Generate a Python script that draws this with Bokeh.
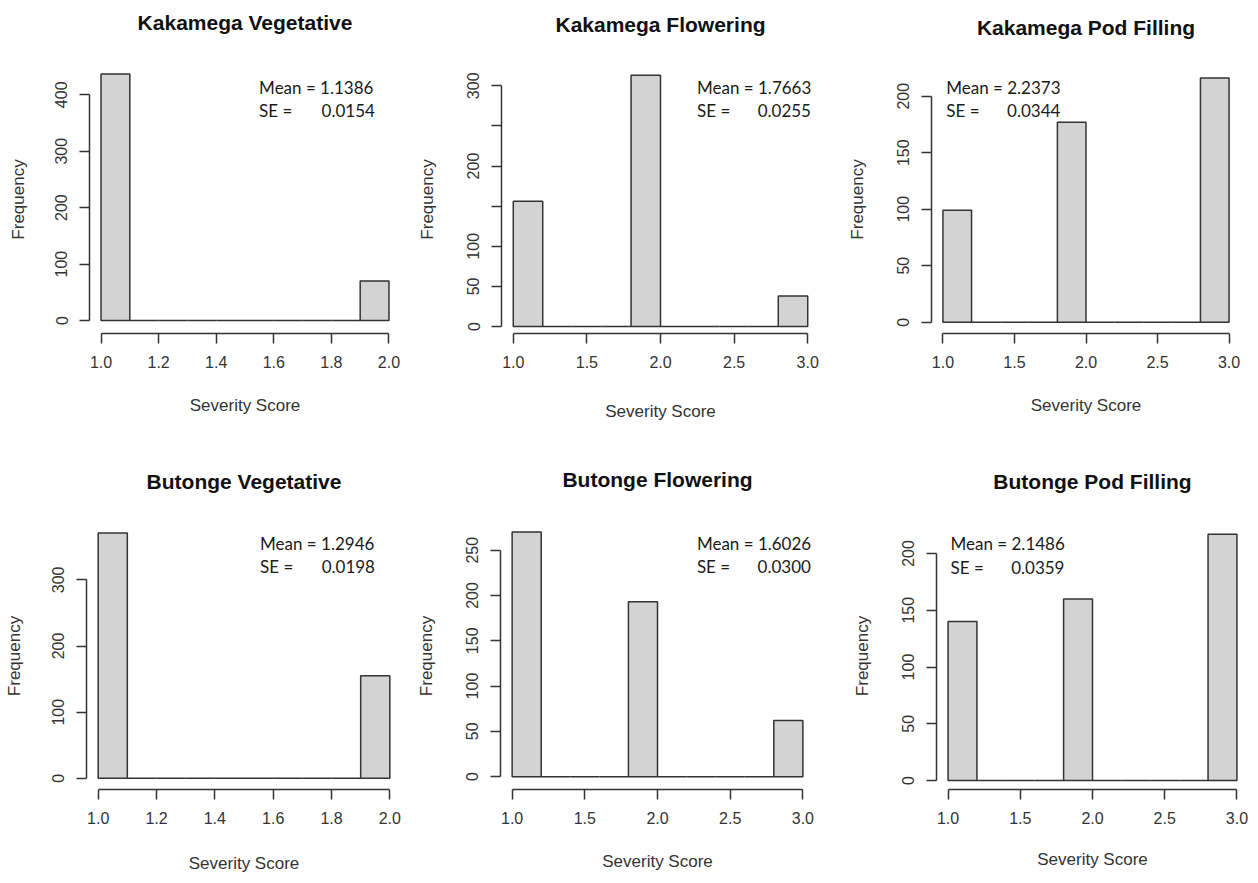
from bokeh.plotting import figure
from bokeh.layouts import row, column
from bokeh.models import FixedTicker, PrintfTickFormatter, Label, ColumnDataSource, Title
from bokeh.embed import file_html
from bokeh.resources import INLINE

# ---------------- data ----------------
titles = ["Kakamega Vegetative", "Kakamega Flowering", "Kakamega Pod Filling",
          "Butonge Vegetative", "Butonge Flowering", "Butonge Pod Filling"]

breaks_two = [1.0, 1.1, 1.2, 1.3, 1.4, 1.5, 1.6, 1.7, 1.8, 1.9, 2.0]
breaks_three = [1.0, 1.2, 1.4, 1.6, 1.8, 2.0, 2.2, 2.4, 2.6, 2.8, 3.0]

kakamega_vegetative = [437, 0, 0, 0, 0, 0, 0, 0, 0, 70]
kakamega_flowering = [156, 0, 0, 0, 313, 0, 0, 0, 0, 38]
kakamega_pod_filling = [99, 0, 0, 0, 177, 0, 0, 0, 0, 216]
butonge_vegetative = [371, 0, 0, 0, 0, 0, 0, 0, 0, 155]
butonge_flowering = [270, 0, 0, 0, 193, 0, 0, 0, 0, 62]
butonge_pod_filling = [140, 0, 0, 0, 160, 0, 0, 0, 0, 217]

means = ["1.1386", "1.7663", "2.2373", "1.2946", "1.6026", "2.1486"]
ses = ["0.0154", "0.0255", "0.0344", "0.0198", "0.0300", "0.0359"]

x_ticks_two = [1.0, 1.2, 1.4, 1.6, 1.8, 2.0]
x_ticks_three = [1.0, 1.5, 2.0, 2.5, 3.0]
y_ticks = [
    [0, 100, 200, 300, 400],
    [0, 50, 100, 150, 200, 250, 300],
    [0, 50, 100, 150, 200],
    [0, 100, 200, 300],
    [0, 50, 100, 150, 200, 250],
    [0, 50, 100, 150, 200],
]
y_hidden_labels = [[], [150, 250], [], [], [], []]

counts = [kakamega_vegetative, kakamega_flowering, kakamega_pod_filling,
          butonge_vegetative, butonge_flowering, butonge_pod_filling]
breaks = [breaks_two, breaks_three, breaks_three, breaks_two, breaks_three, breaks_three]
x_ticks = [x_ticks_two, x_ticks_three, x_ticks_three, x_ticks_two, x_ticks_three, x_ticks_three]

# ---------------- layout (pixels) ----------------
col_w = [412, 428, 410]
row_h = [450, 425]
row_top = [0, 450]
# frame top / bottom shared by all panels of a row (page pixels)
frame_top = [65, 522]
frame_bottom = [333, 792]
# left / right borders per panel
side_borders = [(89, 12), (89, 21), (91, 10), (86, 11), (88, 26), (96, 2)]
# pixel row of the zero line and of the highest y tick, per panel
zero_px = [320, 326, 321.7, 780.7, 779, 783]
top_tick_px = [94.3, 85.3, 95.7, 580, 550, 553.3]
# gap between frame top and title (spacer height)
title_gap = [32, 30, 27, 30, 32, 30]
# text placement (data units): left x, right x of value, mean y, se y
stat_pos = [
    (1.549, 1.951, 413, 372),
    (2.248, 3.022, 298, 269),
    (1.023, 1.821, 208, 187),
    (1.555, 1.949, 355, 320),
    (2.271, 3.055, 257, 232),
    (1.017, 1.806, 209, 188),
]
x_label_standoff = [25, 31, 25, 27, 25, 23]
y_label_standoff = [25, 28, 28, 26, 28, 28]

AX = "#333333"
TICK_TXT = "#333333"


def make_panel(i):
    r = i // 3
    c = counts[i]
    b = breaks[i]
    xmin, xmax = b[0], b[-1]
    dx = 0.04 * (xmax - xmin)
    top_b = frame_top[r] - row_top[r]
    bot_b = row_top[r] + row_h[r] - frame_bottom[r]
    k = (zero_px[i] - top_tick_px[i]) / y_ticks[i][-1]
    y_start = -(frame_bottom[r] - zero_px[i]) / k
    y_end = (zero_px[i] - frame_top[r]) / k
    lft, rgt = side_borders[i]
    p = figure(width=col_w[i % 3], height=row_h[r],
               x_range=(xmin - dx, xmax + dx), y_range=(y_start, y_end),
               output_backend="svg", toolbar_location=None,
               min_border_left=lft, min_border_right=rgt,
               min_border_top=top_b, min_border_bottom=bot_b,
               title=None)
    # spacer between frame and title, then the title itself
    p.add_layout(Title(text=" ", text_font_size="1px", standoff=title_gap[i] - 3), "above")
    p.add_layout(Title(text=titles[i], text_font="Liberation Sans", text_font_size="21px",
                       text_font_style="bold", text_color="#111111", align="center",
                       vertical_align="bottom", standoff=0), "above")

    src = ColumnDataSource(dict(left=b[:-1], right=b[1:], top=c, bottom=[0] * len(c)))
    p.quad(left="left", right="right", top="top", bottom="bottom", source=src,
           fill_color="#d3d3d3", line_color="#333333", line_width=1.5)

    p.xgrid.visible = False
    p.ygrid.visible = False
    p.outline_line_color = None
    p.background_fill_color = "white"
    p.border_fill_color = "white"

    for ax in (p.xaxis[0], p.yaxis[0]):
        ax.axis_line_color = AX
        ax.axis_line_width = 1.5
        ax.major_tick_line_color = AX
        ax.major_tick_line_width = 1.5
        ax.major_tick_out = 10
        ax.major_tick_in = 0
        ax.minor_tick_line_color = None
        ax.major_label_text_font = "Liberation Sans"
        ax.major_label_text_font_size = "16px"
        ax.major_label_text_color = TICK_TXT
        ax.major_label_standoff = 12
        ax.axis_label_text_font = "Liberation Sans"
        ax.axis_label_text_font_size = "17px"
        ax.axis_label_text_font_style = "normal"
        ax.axis_label_text_color = "#333333"

    xa = p.xaxis[0]
    xa.ticker = FixedTicker(ticks=x_ticks[i])
    xa.formatter = PrintfTickFormatter(format="%.1f")
    xa.bounds = (x_ticks[i][0], x_ticks[i][-1])
    xa.axis_label = "Severity Score"
    xa.axis_label_standoff = x_label_standoff[i]

    ya = p.yaxis[0]
    ya.ticker = FixedTicker(ticks=y_ticks[i])
    ya.bounds = (y_ticks[i][0], y_ticks[i][-1])
    ya.major_label_orientation = "vertical"
    ya.axis_label = "Frequency"
    ya.axis_label_standoff = y_label_standoff[i]
    ya.major_label_overrides = {t: "" for t in y_hidden_labels[i]}

    lx, rx, my, sy = stat_pos[i]
    common = dict(text_font="Lato", text_font_size="17px", text_color="#1a1a1a",
                  text_baseline="middle")
    p.add_layout(Label(x=lx, y=my, text="Mean = " + means[i], text_align="left", **common))
    p.add_layout(Label(x=lx, y=sy, text="SE =", text_align="left", **common))
    p.add_layout(Label(x=rx, y=sy, text=ses[i], text_align="right", **common))
    return p


panels = [make_panel(i) for i in range(6)]
layout = column(row(*panels[:3], spacing=0), row(*panels[3:], spacing=0), spacing=0)

open("out.html", "w").write(file_html(layout, INLINE))
